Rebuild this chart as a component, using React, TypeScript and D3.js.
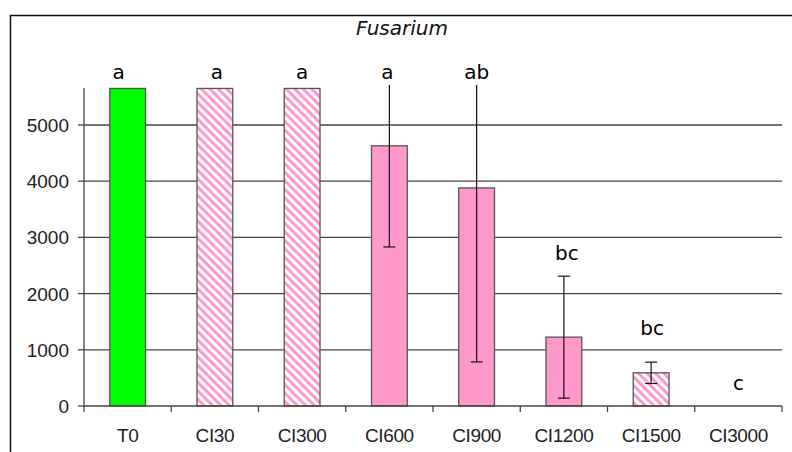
import React from 'react';
import * as d3 from 'd3';

// data
const categories = ['T0', 'CI30', 'CI300', 'CI600', 'CI900', 'CI1200', 'CI1500', 'CI3000'];
const means = [5650, 5650, 5650, 4630, 3880, 1225, 590, 0];
const errors = [0, 0, 0, 1800, 3095, 1085, 190, 0];
const fills = ['green', 'hatch', 'hatch', 'pink', 'pink', 'pink', 'hatch', 'pink'];
const letters = ['a', 'a', 'a', 'a', 'ab', 'bc', 'bc', 'c'];
const letterLevels = [5940, 5940, 5940, 5940, 5940, 2725, 1390, 410];
const letterShift = [-9, 2, 0, -2, 0, 3, 1, 0];
const yTicks = [0, 1000, 2000, 3000, 4000, 5000];

const W = 792, H = 452;
const margin = { top: 88, right: 10, bottom: 46, left: 84 };

const App = () => {
  const x = d3.scaleBand()
    .domain(categories)
    .range([margin.left, W - margin.right])
    .paddingInner(0)
    .paddingOuter(0);

  const y = d3.scaleLinear()
    .domain([0, 5658])
    .range([H - margin.bottom, margin.top]);

  const barW = x.bandwidth() * 0.41;
  const axisCol = '#444';
  const fillFor = (f: string) =>
    f === 'green' ? '#00ff00' : f === 'pink' ? '#ff99cc' : 'url(#hatch)';

  return (
    <svg width={W} height={H} style={{ position: 'absolute', left: 0, top: 0, background: '#fff' }}>
      <defs>
        <pattern id="hatch" patternUnits="userSpaceOnUse" width={6} height={6}
          patternTransform="rotate(-45)">
          <rect width={6} height={6} fill="#fff" />
          <rect width={3} height={6} fill="#ff99cc" />
        </pattern>
        <clipPath id="plot">
          <rect x={0} y={margin.top - 3} width={W} height={H} />
        </clipPath>
      </defs>

      {/* outer frame */}
      <path d={`M10.5,${H} V15.5 H${W}`} fill="none" stroke="#111" strokeWidth={1.5} />

      <text x={402} y={35} textAnchor="middle" fontFamily="DejaVu Sans" fontStyle="italic"
        fontSize={20} fill="#111">Fusarium</text>

      {/* grid */}
      {yTicks.filter(t => t > 0).map(t => (
        <line key={t} x1={margin.left} x2={W - margin.right} y1={y(t)} y2={y(t)}
          stroke={axisCol} strokeWidth={1.3} />
      ))}

      {/* bars */}
      {categories.map((c, i) => means[i] > 0 && (
        <rect key={c}
          x={x(c)! + (x.bandwidth() - barW) / 2}
          y={y(means[i])}
          width={barW}
          height={y(0) - y(means[i])}
          fill={fillFor(fills[i])}
          stroke="#555" strokeWidth={1.3} />
      ))}

      {/* error bars */}
      <g clipPath="url(#plot)">
        {categories.map((c, i) => {
          if (!errors[i]) return null;
          const cx = x(c)! + x.bandwidth() / 2;
          const lo = y(means[i] - errors[i]);
          const hi = y(means[i] + errors[i]);
          return (
            <g key={c} stroke="#111" strokeWidth={1.2}>
              <line x1={cx} x2={cx} y1={lo} y2={hi} />
              <line x1={cx - 6} x2={cx + 6} y1={lo} y2={lo} />
              <line x1={cx - 6} x2={cx + 6} y1={hi} y2={hi} />
            </g>
          );
        })}
      </g>

      {/* significance letters */}
      {categories.map((c, i) => (
        <text key={c} x={x(c)! + x.bandwidth() / 2 + letterShift[i]} y={y(letterLevels[i])}
          dy="0.35em" textAnchor="middle" fontFamily="DejaVu Sans" fontSize={20} fill="#000">
          {letters[i]}
        </text>
      ))}

      {/* y axis */}
      <line x1={margin.left} x2={margin.left} y1={margin.top} y2={y(0)} stroke={axisCol} strokeWidth={1.3} />
      {yTicks.map(t => (
        <g key={t}>
          <line x1={margin.left - 6} x2={margin.left} y1={y(t)} y2={y(t)} stroke={axisCol} strokeWidth={1.3} />
          <text x={69} y={y(t)} dy="0.37em" textAnchor="end" fontFamily="Liberation Sans"
            fontSize={19} fill="#222">{t}</text>
        </g>
      ))}

      {/* x axis */}
      <line x1={margin.left} x2={W - margin.right} y1={y(0)} y2={y(0)} stroke={axisCol} strokeWidth={1.3} />
      {[...categories.map(c => x(c)!), W - margin.right].map((px, i) => (
        <line key={i} x1={px} x2={px} y1={y(0)} y2={y(0) + 6} stroke={axisCol} strokeWidth={1.3} />
      ))}
      {categories.map(c => (
        <text key={c} x={x(c)! + x.bandwidth() / 2} y={442} textAnchor="middle"
          fontFamily="Liberation Sans" fontSize={19} letterSpacing={-0.4} fill="#222">{c}</text>
      ))}
    </svg>
  );
};

export default App;
